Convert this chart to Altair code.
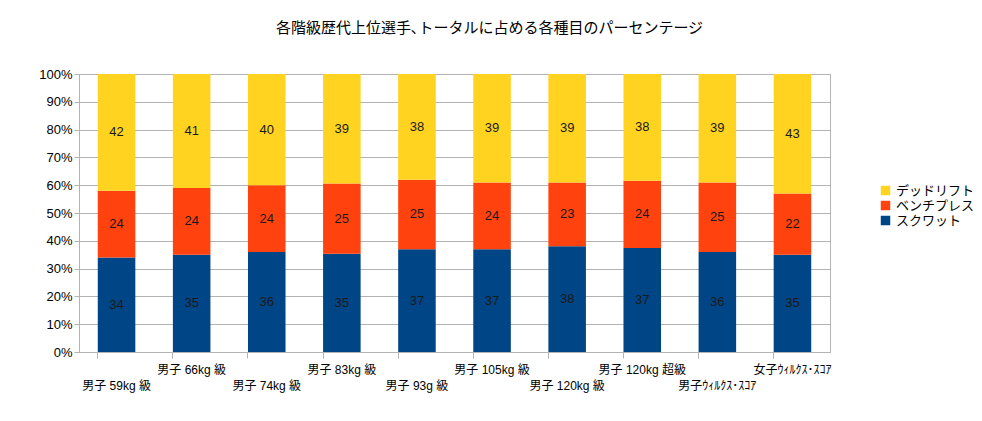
import altair as alt
import pandas as pd

categories = ['男子 59kg 級', '男子 66kg 級', '男子 74kg 級', '男子 83kg 級', '男子 93g 級',
              '男子 105kg 級', '男子 120kg 級', '男子 120kg 超級', '男子ｳｨﾙｸｽ･ｽｺｱ', '女子ｳｨﾙｸｽ･ｽｺｱ']
squat = [34, 35, 36, 35, 37, 37, 38, 37, 36, 35]
bench = [24, 24, 24, 25, 25, 24, 23, 24, 25, 22]
deadlift = [42, 41, 40, 39, 38, 39, 39, 38, 39, 43]

lifts = ['スクワット', 'ベンチプレス', 'デッドリフト']
legend_order = ['デッドリフト', 'ベンチプレス', 'スクワット']
colors = ['#ffd320', '#ff420e', '#004586']

rows = []
for i, c in enumerate(categories):
    for k, (name, vals) in enumerate(zip(lifts, [squat, bench, deadlift])):
        rows.append({'cat': c, 'lift': name, 'ord': k, 'value': vals[i]})
df = pd.DataFrame(rows)

FONT = 'Liberation Sans, Noto Sans CJK JP, sans-serif'
names = "[" + ",".join("'" + c + "'" for c in categories) + "]"

base = alt.Chart(df).transform_stack(
    stack='value', groupby=['cat'], sort=[alt.SortField('ord')],
    as_=['y0', 'y1'], offset='normalize'
).transform_calculate(mid='(datum.y0 + datum.y1) / 2')

x = alt.X('cat:N', sort=categories, title=None,
          scale=alt.Scale(paddingInner=0.5, paddingOuter=0.25),
          axis=alt.Axis(labelAngle=0, bandPosition=0, labelFont=FONT, labelFontSize=12,
                        labelColor='black', domainColor='#b3b3b3', tickColor='#b3b3b3',
                        tickSize=6, labelPadding=6, labelLimit=200, labelOverlap=False,
                        labelLineHeight=16,
                        labelExpr="indexof(" + names + ", datum.value) % 2 == 0 ? ['', datum.label] : datum.label"))

yaxis = alt.Axis(format='.0%', values=[0, 0.1, 0.2, 0.3, 0.4, 0.5, 0.6, 0.7, 0.8, 0.9, 1.0],
                 labelFont=FONT, labelFontSize=13, labelColor='black', gridColor='#b3b3b3',
                 domainColor='#b3b3b3', tickColor='#b3b3b3', tickSize=5, labelOverlap=False)

bars = base.mark_bar().encode(
    x=x,
    y=alt.Y('y0:Q', title=None, scale=alt.Scale(domain=[0, 1]), axis=yaxis),
    y2='y1:Q',
    color=alt.Color('lift:N', scale=alt.Scale(domain=legend_order, range=colors),
                    legend=alt.Legend(title=None, symbolType='square', symbolSize=90,
                                      symbolStrokeWidth=0, labelFont=FONT, labelFontSize=13,
                                      labelColor='black', orient='none', padding=0,
                                      rowPadding=1, legendX=800, legendY=110)),
)

labels = base.mark_text(font=FONT, fontSize=13, color='#1a1a1a').encode(
    x=alt.X('cat:N', sort=categories),
    y=alt.Y('mid:Q', scale=alt.Scale(domain=[0, 1]), axis=yaxis),
    text='value:Q',
)

chart = (bars + labels).properties(
    width=751, height=278,
    title=alt.TitleParams('各階級歴代上位選手､トータルに占める各種目のパーセンテージ',
                          font=FONT, fontSize=15, fontWeight='normal', color='black',
                          anchor='middle', dx=35, offset=32),
    autosize=alt.AutoSizeParams(type='none'),
    padding={'left': 71, 'top': 66, 'right': 144, 'bottom': 61},
).configure_view(stroke='#b3b3b3')

chart.save("out.html", embed_options={"renderer": "svg", "actions": False})
